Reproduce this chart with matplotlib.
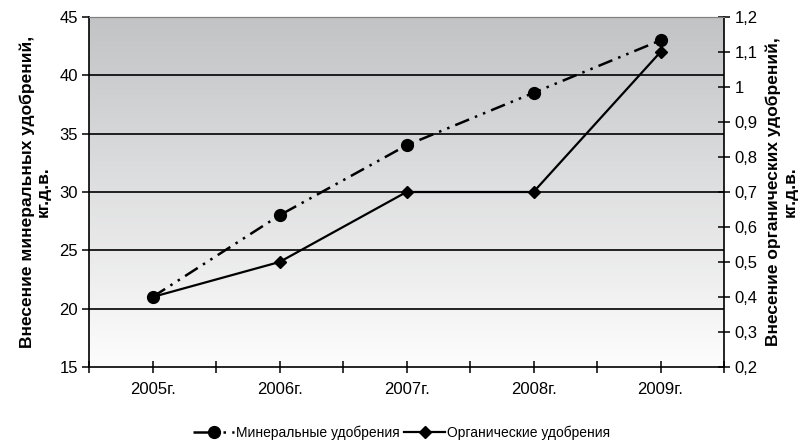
import matplotlib
matplotlib.use("Agg")
import matplotlib.pyplot as plt
import matplotlib.ticker as ticker
import numpy as np

plt.rcParams['font.family'] = ['Liberation Sans', 'DejaVu Sans']

# данные
years = ['2005г.', '2006г.', '2007г.', '2008г.', '2009г.']
mineral = [21, 28, 34, 38.5, 43]        # левая ось
organic = [0.4, 0.5, 0.7, 0.7, 1.1]     # правая ось
left_ticks = [15, 20, 25, 30, 35, 40, 45]
right_ticks = [0.2, 0.3, 0.4, 0.5, 0.6, 0.7, 0.8, 0.9, 1.0, 1.1, 1.2]

fig = plt.figure(figsize=(8.04, 4.46), dpi=100)
ax = fig.add_axes([0.1107, 0.1771, 0.7898, 0.7848])
ax2 = ax.twinx()

x = np.arange(len(years))
ax.set_xlim(-0.5, len(years) - 0.5)
ax.set_ylim(15, 45)
ax2.set_ylim(0.2, 1.2)

# градиентный фон
grad = np.linspace(0, 1, 256).reshape(-1, 1)
cmap = matplotlib.colors.LinearSegmentedColormap.from_list('bg', ['#fdfdfd', '#c2c3c5'])
ax.imshow(grad, aspect='auto', cmap=cmap, origin='lower',
          extent=[-0.5, len(years) - 0.5, 15, 45], zorder=0)

# сетка
for v in left_ticks[1:-1]:
    ax.axhline(v, color='black', lw=1.2, zorder=1)

ax.plot(x, mineral, color='black', lw=1.8, ls=(0, (6, 2.5, 1, 2.5, 1, 2.5)),
        marker='o', ms=8.5, zorder=3, label='Минеральные удобрения')
ax2.plot(x, organic, color='black', lw=1.6, ls='-',
         marker='D', ms=6.5, zorder=3, label='Органические удобрения')

ax.set_yticks(left_ticks)
ax2.set_yticks(right_ticks)
ax2.yaxis.set_major_formatter(ticker.FuncFormatter(lambda v, p: ('%g' % round(v, 1)).replace('.', ',')))

ax.set_xticks(x)
ax.set_xticklabels(years)
ax.set_xticks(np.arange(-0.5, len(years), 1.0), minor=True)

ax.tick_params(axis='y', direction='out', length=5, width=1.1, labelsize=12, pad=3)
ax2.tick_params(axis='y', direction='inout', length=9, width=1.1, labelsize=12, pad=3)
ax.tick_params(axis='x', which='both', direction='inout', length=9, width=1.1,
               labelsize=12, pad=6)

for s in ['left', 'bottom']:
    ax.spines[s].set_linewidth(1.2)
ax.spines['top'].set_color('#808080')
ax.spines['right'].set_visible(False)
ax2.spines['right'].set_linewidth(1.2)
ax2.spines['top'].set_color('#808080')
ax2.spines['left'].set_visible(False)
ax2.spines['bottom'].set_visible(False)

ax.set_ylabel('Внесение минеральных удобрений,\nкг.д.в.', fontsize=12.5,
              fontweight='bold', labelpad=6, linespacing=1.1)
ax2.set_ylabel('Внесение органических удобрений,\nкг.д.в.', fontsize=12.5,
               fontweight='bold', rotation=90, labelpad=6, linespacing=1.1)

h1, l1 = ax.get_legend_handles_labels()
h2, l2 = ax2.get_legend_handles_labels()
fig.legend(h1 + h2, l1 + l2, loc='center', bbox_to_anchor=(0.5, 0.03), ncol=2,
           frameon=False, fontsize=10, handlelength=2.9, columnspacing=0.3,
           handletextpad=0.2)

fig.savefig('out.png', dpi=100)
